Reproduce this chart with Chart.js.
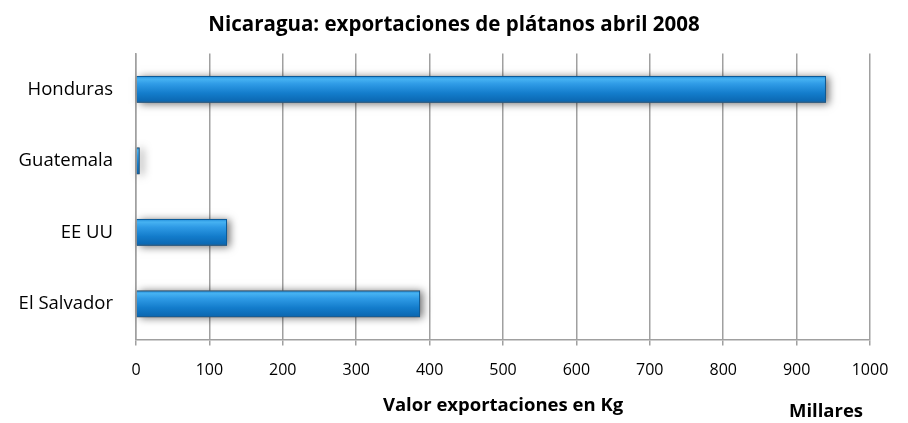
<!DOCTYPE html>
<html>
<head>
<meta charset="utf-8">
<script src="https://cdn.jsdelivr.net/npm/chart.js@4"></script>
<style>
  html, body { margin: 0; padding: 0; background: #fff; }
  #wrap { width: 908px; height: 423px; }
</style>
</head>
<body>
<div id="wrap"><canvas id="chart"></canvas></div>
<script>
const paises = ['Honduras', 'Guatemala', 'EE UU', 'El Salvador'];
const valores = [940, 5, 124, 387];  // miles de Kg
const ticksX = [0, 100, 200, 300, 400, 500, 600, 700, 800, 900, 1000];

const fuente = '"Open Sans", sans-serif';

// sombra difusa detras de cada barra
const sombra = {
  id: 'sombra',
  beforeDatasetsDraw(chart) {
    const ctx = chart.ctx;
    chart.getDatasetMeta(0).data.forEach(bar => {
      const p = bar.getProps(['x', 'y', 'base', 'height'], true);
      ctx.save();
      ctx.shadowColor = 'rgba(0,0,0,0.55)';
      ctx.shadowBlur = 8;
      ctx.shadowOffsetX = 3;
      ctx.shadowOffsetY = 1;
      ctx.fillStyle = 'rgba(90,90,90,1)';
      ctx.fillRect(p.base, p.y - p.height / 2, p.x - p.base, p.height);
      ctx.restore();
    });
  }
};

// texto "Millares"
const millares = {
  id: 'millares',
  afterDraw(chart) {
    const ctx = chart.ctx;
    ctx.save();
    ctx.font = 'bold 18.5px ' + fuente;
    ctx.fillStyle = '#000';
    ctx.textAlign = 'center';
    ctx.textBaseline = 'middle';
    ctx.fillText('Millares', 826, 412);
    ctx.restore();
  }
};

new Chart(document.getElementById('chart'), {
  type: 'bar',
  data: {
    labels: paises,
    datasets: [{
      data: valores,
      backgroundColor: (c) => {
        const chart = c.chart;
        if (!chart.chartArea || !chart.scales.y) return '#1c86d6';
        const y = chart.scales.y.getPixelForValue(c.dataIndex);
        const h = 13.5;
        const g = chart.ctx.createLinearGradient(0, y - h, 0, y + h);
        g.addColorStop(0, '#1f8ad8');
        g.addColorStop(0.12, '#46b2f2');
        g.addColorStop(0.3, '#2f9be6');
        g.addColorStop(0.65, '#137ccb');
        g.addColorStop(1, '#0a64ad');
        return g;
      },
      borderColor: '#0b5a98',
      borderWidth: 1,
      barPercentage: 0.75,
      categoryPercentage: 0.5
    }]
  },
  options: {
    responsive: true,
    maintainAspectRatio: false,
    animation: false,
    indexAxis: 'y',
    layout: { padding: { left: 0, right: 0, top: 8, bottom: 0 } },
    plugins: {
      legend: { display: false },
      tooltip: { enabled: false },
      title: {
        display: true,
        text: 'Nicaragua: exportaciones de plátanos abril 2008',
        color: '#000',
        font: { family: fuente, size: 20.5, weight: 'bold' },
        padding: { top: 5, bottom: 16 }
      }
    },
    scales: {
      x: {
        min: 0,
        max: 1000,
        afterBuildTicks: (axis) => { axis.ticks = ticksX.map(v => ({ value: v })); },
        grid: { color: '#a0a0a0', lineWidth: 1.5, tickLength: 6, drawTicks: true },
        border: { color: '#a0a0a0', width: 1.5 },
        ticks: {
          color: '#000',
          font: { family: fuente, size: 16 },
          padding: 15,
          callback: (v) => String(v)
        },
        title: {
          display: true,
          text: 'Valor exportaciones en Kg',
          color: '#000',
          font: { family: fuente, size: 18.5, weight: 'bold' },
          padding: { top: 0, bottom: 6 }
        }
      },
      y: {
        afterFit: (axis) => { axis.width = 136; },
        grid: { display: false },
        border: { color: '#a0a0a0', width: 1.5 },
        ticks: { color: '#000', font: { family: fuente, size: 18.5 }, padding: 15 }
      },
      // eje vacio a la derecha solo para reservar el margen
      margen: {
        type: 'category',
        axis: 'y',
        position: 'right',
        afterFit: (axis) => { axis.width = 38; },
        grid: { display: false },
        border: { display: false },
        ticks: { display: false }
      }
    }
  },
  plugins: [sombra, millares]
});
</script>
</body>
</html>
